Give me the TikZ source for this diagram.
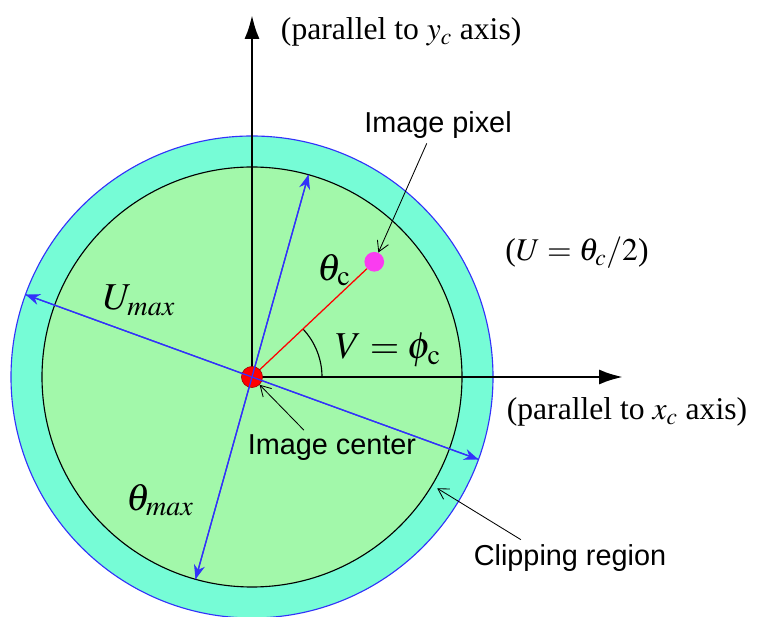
\documentclass[tikz,border=0pt]{standalone}
\usepackage{mathptmx}
\usepackage[no-math]{fontspec}
\setmainfont{Liberation Serif}
\setsansfont{Liberation Sans}
\usetikzlibrary{arrows.meta}
\definecolor{ringcol}{RGB}{118,252,214}
\definecolor{diskcol}{RGB}{162,248,170}
\definecolor{edgeblue}{RGB}{50,50,250}
\definecolor{pixcol}{RGB}{250,60,240}

\begin{document}
\begin{tikzpicture}[
x=0.025cm, y=0.025cm,
txt/.style={font=\fontsize{22.5}{27}\selectfont},
mathlbl/.style={font=\fontsize{27}{31}\selectfont},
sanslbl/.style={font=\sffamily\fontsize{20.5}{24}\selectfont},
axis/.style={-{Latex[length=6mm, width=3.8mm]}, line width=2pt},
radial/.style={{Stealth[length=3.6mm, width=2.8mm]}-{Stealth[length=3.6mm, width=2.8mm]}, edgeblue, line width=0.9pt},
pointer/.style={-{Straight Barb[length=2.6mm, width=3mm]}, semithick}
]
\useasboundingbox (-252,-239) rectangle (508,377);

% disk and clipping ring
\filldraw[fill=ringcol, draw=edgeblue, line width=0.8pt] (0,0) circle (241);
\filldraw[fill=diskcol, draw=black, line width=0.8pt] (0,0) circle (210);

\coordinate (c) at (0,0);
\coordinate (ytip) at (0,362);
\coordinate (xtip) at (371,0);
\coordinate (tA) at (74.4:210);
\coordinate (tB) at (254.4:210);
\coordinate (uA) at (160:241);
\coordinate (uB) at (340:241);
\coordinate (clipA) at (-31:216);

\draw[axis] (c) -- (ytip);
\draw[axis] (c) -- (xtip);
\draw[radial] (tB) -- (tA);
\draw[radial] (uA) -- (uB);
\draw[line width=0.8pt] (70,0) arc (0:43.3:70);

\node[circle, fill=pixcol, inner sep=0pt, minimum size=14] (pix) at (43.3:168) {};
\draw[red, line width=0.9pt] (c) -- (pix);
\node[circle, fill=red, draw=red!60!black, inner sep=0pt, minimum size=15] (ctr) at (c) {};
\draw[edgeblue, line width=0.9pt] (tB) -- (tA) (uA) -- (uB);

% labels
\node[txt, anchor=west] (ylab) at (24,345) {(parallel to $y_c$ axis)};
\node[txt] (xlab) at (375,-35) {(parallel to $x_c$ axis)};
\node[txt] (ueq) at (325,124) {($U = \theta_c/2$)};
\node[mathlbl] (thc) at (82,107) {$\theta_{\mathrm{c}}$};
\node[mathlbl] (veq) at (136,27) {$V = \phi_{\mathrm{c}}$};
\node[mathlbl] (umax) at (-113,77) {$U_{max}$};
\node[mathlbl] (thmax) at (-92,-123) {$\theta_{max}$};
\node[sanslbl] (ipx) at (186,252) {Image pixel};
\node[sanslbl] (icn) at (80,-71) {Image center};
\node[sanslbl] (clip) at (318,-181) {Clipping region};

\draw[pointer] ([xshift=-8]ipx.south) -- (pix);
\draw[pointer] ([xshift=-20]icn.north) -- (ctr);
\draw[pointer] ([xshift=-35]clip.north) -- (clipA);
\end{tikzpicture}
\end{document}
